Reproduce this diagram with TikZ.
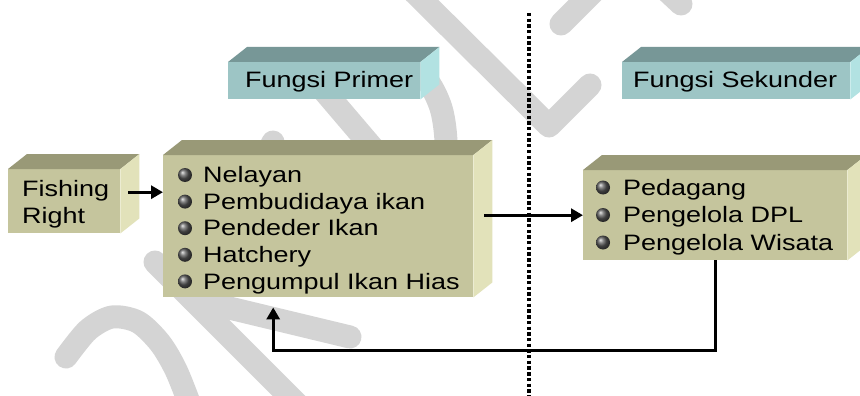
\documentclass[tikz,border=0pt]{standalone}
\usepackage{fontspec}
\setmainfont{Liberation Sans}[FakeStretch=1.21]
\usetikzlibrary{arrows.meta}

\definecolor{olfront}{HTML}{C5C59D}
\definecolor{oltop}{HTML}{999977}
\definecolor{olside}{HTML}{E2E2BA}
\definecolor{tlfront}{HTML}{9DC5C5}
\definecolor{tltop}{HTML}{779797}
\definecolor{tlside}{HTML}{B2E2E2}
\definecolor{wmark}{HTML}{D4D4D4}

% top and right faces of a slab whose front face is node #1
\newcommand\slabfaces[3]{%
  \fill[#2] (#1.north west) -- ++(19,-15) -- ([shift={(19,-15)}]#1.north east) -- (#1.north east) -- cycle;
  \fill[#3] (#1.north east) -- ++(19,-15) -- ([shift={(19,-15)}]#1.south east) -- (#1.south east) -- cycle;
}

\tikzset{
  olivebox/.style={rectangle, inner sep=0pt, fill=olfront, anchor=north west},
  tealbox/.style={rectangle, inner sep=0pt, fill=tlfront, anchor=north west},
  lbl/.style={anchor=base west, inner sep=0pt, font=\fontsize{22.3}{26.6}\selectfont},
  bul/.style={circle, inner sep=0pt, minimum size=14pt, ball color=gray!70!black},
  flow/.style={line width=3.4pt, -{Triangle[length=12pt,width=13pt]}},
  wm/.style={line width=23pt, line cap=round, line join=round, draw=wmark},
  divider/.style={line width=3.8pt, dash pattern=on 3.4pt off 2.3pt},
}

\begin{document}
\begin{tikzpicture}[x=1pt, y=-1pt]
\clip (0,0) rectangle (860,396);
\fill[white] (0,0) rectangle (860,396);

% background stamp strokes
\draw[wm] plot[smooth] coordinates {(66,357) (88,330) (112,317) (138,322) (160,343) (176,370) (190,405)};
\draw[wm] (155,262) -- (310,417);
\draw[wm] (192,299) -- (350,337);
\draw[wm] (205,285) -- (273,142);
\draw[wm] (325,92) -- (400,180);
\draw[wm] plot[smooth] coordinates {(395,62) (425,78) (441,108) (446,145) (440,180)};
\draw[wm] (414,-8) -- (549,126) -- (590,85);
\draw[wm] (561,24) -- (600,-15);
\draw[wm] (650,-25) -- (681,4);

% header slabs
\node[tealbox, minimum width=192pt, minimum height=37pt] (hprim) at (228,62) {};
\slabfaces{hprim}{tltop}{tlside}
\node[lbl] (hprimtxt) at (245,88) {Fungsi Primer};

\node[tealbox, minimum width=228pt, minimum height=37pt] (hsek) at (622,62) {};
\slabfaces{hsek}{tltop}{tlside}
\node[lbl] (hsektxt) at (633,88) {Fungsi Sekunder};

% Fishing Right
\node[olivebox, minimum width=112pt, minimum height=64pt] (fishing) at (8,169) {};
\slabfaces{fishing}{oltop}{olside}
\node[lbl] (fish1) at (22,196) {Fishing};
\node[lbl] (fish2) at (22,223) {Right};

% primary functions
\node[olivebox, minimum width=310pt, minimum height=142pt] (primer) at (163,155) {};
\slabfaces{primer}{oltop}{olside}
\foreach \t [count=\i] in {Nelayan, Pembudidaya ikan, Pendeder Ikan, Hatchery, Pengumpul Ikan Hias}{
  \node[bul] (pb\i) at (185,{175+(\i-1)*26.6}) {};
  \node[lbl] (pt\i) at (203,{182.7+(\i-1)*26.6}) {\t};
}

% secondary functions
\node[olivebox, minimum width=264pt, minimum height=90pt] (sek) at (583,170) {};
\slabfaces{sek}{oltop}{olside}
\foreach \t [count=\i] in {Pedagang, Pengelola DPL, Pengelola Wisata}{
  \node[bul] (sb\i) at (603,{187.5+(\i-1)*27.5}) {};
  \node[lbl] (st\i) at (623,{195+(\i-1)*27.5}) {\t};
}

% connectors
\coordinate (fr) at ([shift={(8,-9)}]fishing.east);
\draw[flow] (fr) -- (fr -| primer.west);
\path (sek.west -| primer.east) ++(11,0) coordinate (ps);
\draw[flow] (ps) -- (sek.west);
\draw[flow] (sek.south) -- ++(0,90) -| ([shift={(-45,10)}]primer.south);

% divider between primary and secondary
\coordinate (dtop) at (529,13);
\coordinate (dbot) at (529,400);
\draw[divider] (dtop) -- (dbot);
\end{tikzpicture}
\end{document}
